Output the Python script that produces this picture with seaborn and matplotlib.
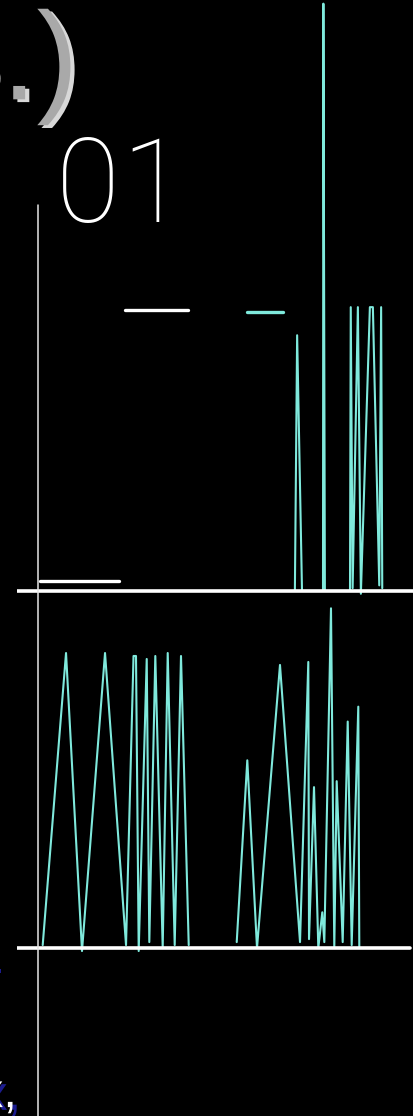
import matplotlib
matplotlib.use("Agg")
import pandas as pd
import matplotlib.pyplot as plt
import matplotlib.patheffects as pe
from matplotlib.lines import Line2D
import seaborn as sns

# time axis 0..100, level 0 = low, 1 = high
top_t = [68.5, 69.1, 70.4, 76.0, 76.1, 76.5, 83.2, 83.4, 83.9, 85.3, 86.1,
         88.5, 89.3, 91.0, 91.5, 91.8]
top_v = [0.0, 0.91, 0.0, 0.0, 2.09, 0.0, 0.0, 1.01, 0.01, 1.01, -0.01,
         1.01, 1.01, 0.02, 1.01, 0.01]

# level marks drawn in the top panel
white_t = [0.5, 21.6, 23.2, 40.0]
white_v = [0.036, 0.036, 1.0, 1.0]
white_seg = [0, 0, 1, 1]
cyan_t = [55.7, 65.3]
cyan_v = [0.993, 0.993]

# bottom trace, two bursts
bot_t = [1.25, 7.47, 11.73, 17.87, 23.47, 25.47, 26.13, 26.85, 28.99, 29.68,
         31.28, 33.25, 34.59, 36.45, 38.13, 40.19,
         52.99, 55.81, 58.4, 64.53, 69.87, 72.08, 72.27, 73.6, 74.75, 75.81,
         76.35, 78.13, 79.01, 79.65, 81.25, 82.59, 83.65, 85.41, 85.68]
bot_v = [0.01, 0.99, -0.01, 0.99, 0.01, 0.98, 0.98, -0.01, 0.97, 0.02,
         0.98, 0.0, 0.99, 0.01, 0.98, 0.01,
         0.02, 0.63, 0.0, 0.95, 0.02, 0.96, 0.03, 0.54, 0.0, 0.12,
         0.02, 1.14, 0.0, 0.56, 0.02, 0.76, 0.01, 0.81, 0.0]
bot_seg = [0] * 16 + [1] * 19

digits = ["0", "1"]
digit_t = [13.3, 30.6]

CYAN = "#7fe9dc"
NAVY = "#1c1c8f"

sns.set_theme(style="dark", rc={"figure.facecolor": "black",
                                "axes.facecolor": "black"})

fig = plt.figure(figsize=(4.13, 11.16), dpi=100)
ax_top = fig.add_axes([0.0412, 0.4624, 0.9588, 0.5376])
ax_bot = fig.add_axes([0.0412, 0.1398, 0.9588, 0.3226])

top = pd.DataFrame({"t": top_t, "v": top_v})
sns.lineplot(data=top, x="t", y="v", estimator=None, sort=False,
             color=CYAN, lw=1.5, ax=ax_top)
lev = pd.DataFrame({"t": white_t, "v": white_v, "seg": white_seg})
sns.lineplot(data=lev, x="t", y="v", units="seg", estimator=None, sort=False,
             color="white", lw=2.4, ax=ax_top)
sns.lineplot(x=cyan_t, y=cyan_v, color=CYAN, lw=2.4, ax=ax_top)
ax_top.axhline(0, color="white", lw=2.6, zorder=5)
ax_top.set_xlim(-5.6, 100)
ax_top.set_ylim(-0.032, 2.103)

bot = pd.DataFrame({"t": bot_t, "v": bot_v, "seg": bot_seg})
sns.lineplot(data=bot, x="t", y="v", units="seg", estimator=None, sort=False,
             color=CYAN, lw=1.5, ax=ax_bot)
ax_bot.axhline(0, xmax=0.992, color="white", lw=2.6, zorder=5)
ax_bot.set_xlim(-5.6, 100)
ax_bot.set_ylim(-0.040, 1.168)

for ax in (ax_top, ax_bot):
    ax.set_axis_off()

for d, t in zip(digits, digit_t):
    ax_top.text(t, 1.313, d, ha="center", va="baseline", color="white",
                fontsize=84, fontweight="light", family=["Roboto", "DejaVu Sans"])

fig.add_artist(Line2D([0.0932, 0.0932], [0, 0.8163], transform=fig.transFigure,
                      color="#e6e6e6", lw=1.1))

fig.text(0.189, 0.911, "3.)", ha="right", va="baseline", color="#a9a9a9",
         fontsize=90, family=["Liberation Sans", "DejaVu Sans"],
         path_effects=[pe.SimplePatchShadow(offset=(3, -2), shadow_rgbFace="white",
                                            alpha=0.85), pe.Normal()])
fig.text(0.041, 0.008, "x,", ha="right", va="baseline", color="white",
         fontsize=35, family=["Liberation Sans", "DejaVu Sans"],
         path_effects=[pe.SimplePatchShadow(offset=(3, -2), shadow_rgbFace=NAVY,
                                            alpha=1.0), pe.Normal()])
fig.text(0.008, 0.1183, "-", ha="right", va="baseline", color=NAVY,
         fontsize=35, family=["Liberation Sans", "DejaVu Sans"])

fig.savefig("out.png", dpi=100, facecolor="black")
